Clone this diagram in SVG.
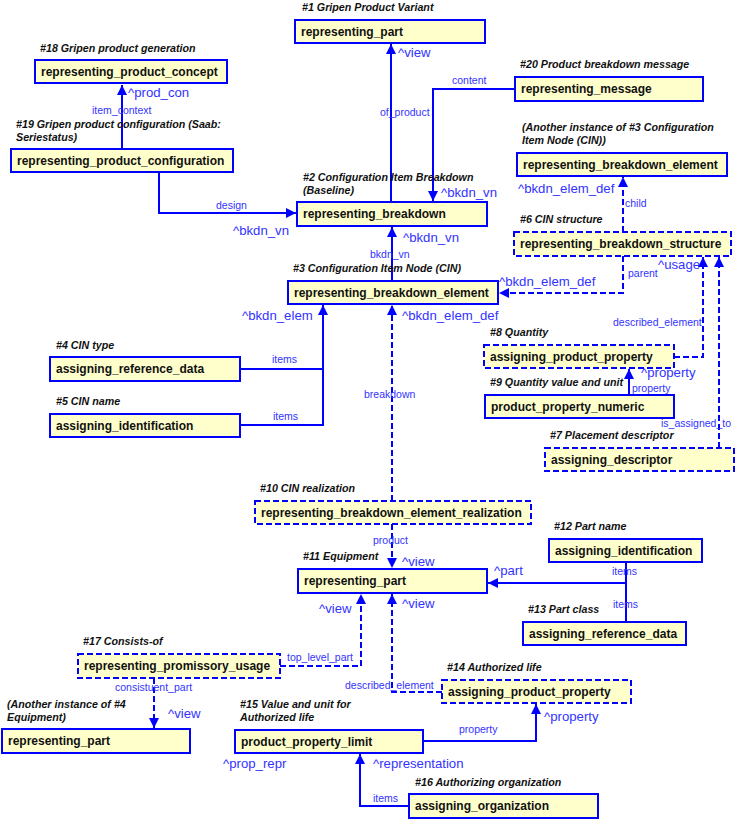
<svg xmlns="http://www.w3.org/2000/svg" width="736" height="819" viewBox="0 0 736 819">
<style>
.box{fill:#FFFFCC;stroke:#0000FF;stroke-width:2}
.dash{stroke-dasharray:6,3}
.bt{font-family:"Liberation Sans",Arial,sans-serif;font-size:12px;font-weight:bold;fill:#111}
.nl{font-family:"Liberation Sans",Arial,sans-serif;font-size:10.7px;font-weight:bold;font-style:italic;fill:#111}
.c{fill:none;stroke:#0000FF;stroke-width:2}
.cl{font-family:"Liberation Sans",Arial,sans-serif;font-size:10.5px;fill:#3333FF}
.rl{font-family:"Liberation Sans",Arial,sans-serif;font-size:13.2px;fill:#3333FF}
</style>
<defs>
<marker id="arr" markerWidth="10" markerHeight="10" refX="10" refY="5" orient="auto" markerUnits="userSpaceOnUse"><path d="M0,0 L10,5 L0,10 z" fill="#0000FF"/></marker>
</defs>
<g id="connectors">
<path class="c" d="M122,149 V85" marker-end="url(#arr)"/>
<path class="c" d="M159,173 V213 H296" marker-end="url(#arr)"/>
<path class="c" d="M391,202 V44" marker-end="url(#arr)"/>
<path class="c" d="M515,89 H433 V201" marker-end="url(#arr)"/>
<path class="c" d="M392,281 V227" marker-end="url(#arr)"/>
<path class="c dash" d="M623,232 V177" marker-end="url(#arr)"/>
<path class="c dash" d="M623,256 V293 H499" marker-end="url(#arr)"/>
<path class="c dash" d="M674,357 H703 V257" marker-end="url(#arr)"/>
<path class="c dash" d="M719,448 V257" marker-end="url(#arr)"/>
<path class="c" d="M240,369 H323"/>
<path class="c" d="M240,425 H323 V305" marker-end="url(#arr)"/>
<path class="c" d="M629,395 V369" marker-end="url(#arr)"/>
<path class="c dash" d="M392,501 V305" marker-end="url(#arr)"/>
<path class="c dash" d="M392,524 V568" marker-end="url(#arr)"/>
<path class="c" d="M626,562 V622"/>
<path class="c" d="M626,583 H488" marker-end="url(#arr)"/>
<path class="c dash" d="M280,666 H361 V594" marker-end="url(#arr)"/>
<path class="c dash" d="M442,692 H392 V594" marker-end="url(#arr)"/>
<path class="c dash" d="M154,678 V728" marker-end="url(#arr)"/>
<path class="c" d="M423,741 H536 V704" marker-end="url(#arr)"/>
<path class="c" d="M409,806 H360 V754" marker-end="url(#arr)"/>
<text class="cl" x="92" y="114">item_context</text>
<text class="rl" x="128" y="97">^prod_con</text>
<text class="cl" x="216" y="209">design</text>
<text class="rl" x="233" y="235">^bkdn_vn</text>
<text class="rl" x="398" y="57">^view</text>
<text class="cl" x="452" y="84">content</text>
<text class="cl" x="380" y="116">of_product</text>
<text class="rl" x="441" y="197">^bkdn_vn</text>
<text class="rl" x="403" y="242">^bkdn_vn</text>
<text class="cl" x="370" y="258">bkdn_vn</text>
<text class="rl" x="518" y="193">^bkdn_elem_def</text>
<text class="cl" x="625" y="207">child</text>
<text class="rl" x="658" y="269">^usage</text>
<text class="cl" x="628" y="277">parent</text>
<text class="rl" x="499" y="286">^bkdn_elem_def</text>
<text class="rl" x="242" y="320">^bkdn_elem</text>
<text class="rl" x="402" y="320">^bkdn_elem_def</text>
<text class="cl" x="272" y="363">items</text>
<text class="cl" x="273" y="420">items</text>
<text class="cl" x="364" y="398">breakdown</text>
<text class="cl" x="613" y="326">described_element</text>
<text class="rl" x="641" y="377">^property</text>
<text class="cl" x="632" y="392">property</text>
<text class="cl" x="661" y="427">is_assigned_to</text>
<text class="cl" x="373" y="544">product</text>
<text class="rl" x="402" y="566">^view</text>
<text class="rl" x="494" y="575">^part</text>
<text class="cl" x="612" y="575">items</text>
<text class="cl" x="613" y="608">items</text>
<text class="rl" x="319" y="613">^view</text>
<text class="rl" x="402" y="608">^view</text>
<text class="cl" x="287" y="661">top_level_part</text>
<text class="cl" x="345" y="689">described_element</text>
<text class="cl" x="115" y="691">consistuent_part</text>
<text class="rl" x="168" y="718">^view</text>
<text class="cl" x="459" y="733">property</text>
<text class="rl" x="544" y="721">^property</text>
<text class="rl" x="223" y="768">^prop_repr</text>
<text class="rl" x="373" y="768">^representation</text>
<text class="cl" x="373" y="802">items</text>
</g>
<g id="n18"><text class="nl" x="40" y="52">#18 Gripen product generation</text><rect class="box" x="35" y="60" width="192" height="23"/><text class="bt" x="41" y="76">representing_product_concept</text></g>
<g id="n19"><text class="nl" x="16" y="128">#19 Gripen product configuration (Saab:</text><text class="nl" x="16" y="141">Seriestatus)</text><rect class="box" x="11" y="149" width="222" height="23"/><text class="bt" x="17" y="165">representing_product_configuration</text></g>
<g id="n1"><text class="nl" x="302" y="11">#1 Gripen Product Variant</text><rect class="box" x="295" y="20" width="190" height="23"/><text class="bt" x="301" y="36">representing_part</text></g>
<g id="n2"><text class="nl" x="303" y="181">#2 Configuration Item Breakdown</text><text class="nl" x="303" y="194">(Baseline)</text><rect class="box" x="297" y="202" width="190" height="24"/><text class="bt" x="303" y="218">representing_breakdown</text></g>
<g id="n20"><text class="nl" x="520" y="68">#20 Product breakdown message</text><rect class="box" x="515" y="77" width="188" height="24"/><text class="bt" x="521" y="93">representing_message</text></g>
<g id="n3b"><text class="nl" x="522" y="131">(Another instance of #3 Configuration</text><text class="nl" x="522" y="144">Item Node (CIN))</text><rect class="box" x="517" y="153" width="210" height="23"/><text class="bt" x="523" y="169">representing_breakdown_element</text></g>
<g id="n6"><text class="nl" x="520" y="223">#6 CIN structure</text><rect class="box dash" x="514" y="232" width="217" height="24"/><text class="bt" x="520" y="248">representing_breakdown_structure</text></g>
<g id="n3"><text class="nl" x="293" y="272">#3 Configuration Item Node (CIN)</text><rect class="box" x="288" y="281" width="210" height="23"/><text class="bt" x="294" y="297">representing_breakdown_element</text></g>
<g id="n4"><text class="nl" x="56" y="349">#4 CIN type</text><rect class="box" x="50" y="357" width="190" height="24"/><text class="bt" x="56" y="373">assigning_reference_data</text></g>
<g id="n5"><text class="nl" x="56" y="405">#5 CIN name</text><rect class="box" x="50" y="414" width="190" height="23"/><text class="bt" x="56" y="430">assigning_identification</text></g>
<g id="n8"><text class="nl" x="490" y="336">#8 Quantity</text><rect class="box dash" x="484" y="345" width="190" height="23"/><text class="bt" x="490" y="361">assigning_product_property</text></g>
<g id="n9"><text class="nl" x="490" y="386">#9 Quantity value and unit</text><rect class="box" x="485" y="395" width="189" height="23"/><text class="bt" x="491" y="411">product_property_numeric</text></g>
<g id="n7"><text class="nl" x="550" y="439">#7 Placement descriptor</text><rect class="box dash" x="545" y="448" width="189" height="23"/><text class="bt" x="551" y="464">assigning_descriptor</text></g>
<g id="n10"><text class="nl" x="260" y="492">#10 CIN realization</text><rect class="box dash" x="255" y="501" width="276" height="23"/><text class="bt" x="261" y="517">representing_breakdown_element_realization</text></g>
<g id="n12"><text class="nl" x="554" y="530">#12 Part name</text><rect class="box" x="549" y="539" width="153" height="23"/><text class="bt" x="555" y="555">assigning_identification</text></g>
<g id="n11"><text class="nl" x="303" y="560">#11 Equipment</text><rect class="box" x="298" y="569" width="189" height="24"/><text class="bt" x="304" y="585">representing_part</text></g>
<g id="n13"><text class="nl" x="528" y="613">#13 Part class</text><rect class="box" x="523" y="622" width="163" height="23"/><text class="bt" x="529" y="638">assigning_reference_data</text></g>
<g id="n17"><text class="nl" x="83" y="645">#17 Consists-of</text><rect class="box dash" x="78" y="654" width="202" height="24"/><text class="bt" x="84" y="670">representing_promissory_usage</text></g>
<g id="n14"><text class="nl" x="447" y="671">#14 Authorized life</text><rect class="box dash" x="442" y="680" width="189" height="23"/><text class="bt" x="448" y="696">assigning_product_property</text></g>
<g id="n4b"><text class="nl" x="7" y="708">(Another instance of #4</text><text class="nl" x="7" y="721">Equipment)</text><rect class="box" x="2" y="729" width="188" height="24"/><text class="bt" x="8" y="745">representing_part</text></g>
<g id="n15"><text class="nl" x="240" y="708">#15 Value and unit for</text><text class="nl" x="240" y="721">Authorized life</text><rect class="box" x="235" y="730" width="188" height="23"/><text class="bt" x="241" y="746">product_property_limit</text></g>
<g id="n16"><text class="nl" x="415" y="786">#16 Authorizing organization</text><rect class="box" x="409" y="794" width="189" height="24"/><text class="bt" x="415" y="810">assigning_organization</text></g>
</svg>
